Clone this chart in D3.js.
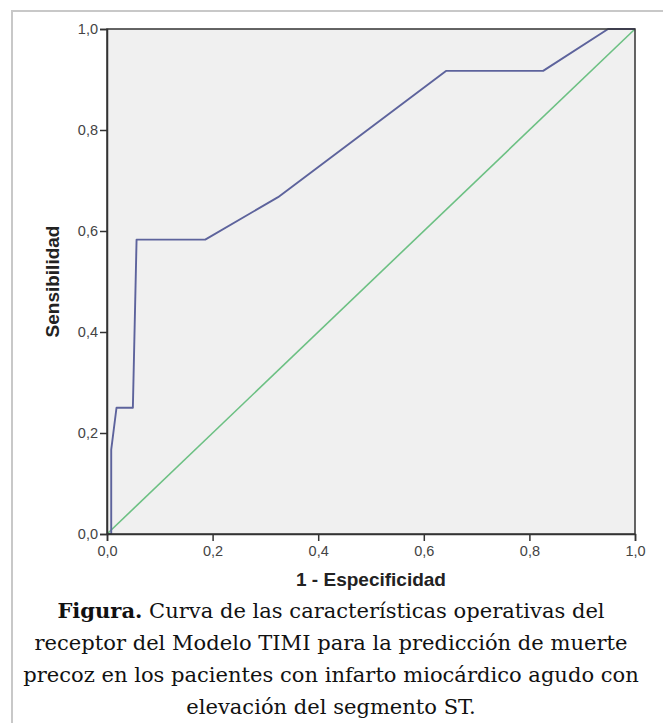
<!DOCTYPE html>
<html><head><meta charset="utf-8">
<script src="https://cdn.jsdelivr.net/npm/d3@7"></script>
<style>body{margin:0;background:#fff}svg{display:block}</style>
</head><body>
<svg id="c" width="663" height="723"></svg>
<script>
// ROC curve data
const fpr = [0, 0.008, 0.008, 0.018, 0.049, 0.056, 0.186, 0.324, 0.642, 0.826, 0.949, 1.0];
const tpr = [0, 0, 0.167, 0.25, 0.25, 0.583, 0.583, 0.667, 0.917, 0.917, 1.0, 1.0];
const refX = [0, 1];
const refY = [0, 1];
const xTicks = [0, 0.2, 0.4, 0.6, 0.8, 1.0];
const yTicks = [0, 0.2, 0.4, 0.6, 0.8, 1.0];
const xTitle = "1 - Especificidad";
const yTitle = "Sensibilidad";
const captionBold = "Figura.";
const captionLines = [
  " Curva de las características operativas del",
  "receptor del Modelo TIMI para la predicción de muerte",
  "precoz en los pacientes con infarto miocárdico agudo con",
  "elevación del segmento ST."
];

const svg = d3.select("#c");
const m = {l:107, r:635, t:29, b:534};
const x = d3.scaleLinear().domain([0,1]).range([m.l, m.r]);
const y = d3.scaleLinear().domain([0,1]).range([m.b, m.t]);
const fmt = d => d3.format(".1f")(d).replace(".", ",");

// outer frame
svg.append("rect").attr("x",12).attr("y",11).attr("width",700).attr("height",800)
  .attr("fill","none").attr("stroke","#c8c8c8").attr("stroke-width",2);

// plot bg
svg.append("rect").attr("x",m.l).attr("y",m.t).attr("width",m.r-m.l).attr("height",m.b-m.t)
  .attr("fill","#f0f0f0");

const line = d3.line().x(d=>x(d[0])).y(d=>y(d[1]));
svg.append("path").datum(refX.map((v,i)=>[v,refY[i]])).attr("d",line)
  .attr("fill","none").attr("stroke","#6cc083").attr("stroke-width",1.6);
svg.append("path").datum(fpr.map((v,i)=>[v,tpr[i]])).attr("d",line)
  .attr("fill","none").attr("stroke","#5d639c").attr("stroke-width",1.9).attr("stroke-linejoin","round");

// frame of plot
svg.append("rect").attr("x",m.l).attr("y",m.t).attr("width",m.r-m.l).attr("height",m.b-m.t)
  .attr("fill","none").attr("stroke","#333").attr("stroke-width",1.5);

const xa = svg.append("g").attr("transform",`translate(0,${m.b})`)
  .call(d3.axisBottom(x).tickValues(xTicks).tickFormat(fmt).tickSize(7).tickPadding(5));
const ya = svg.append("g").attr("transform",`translate(${m.l},0)`)
  .call(d3.axisLeft(y).tickValues(yTicks).tickFormat(fmt).tickSize(7).tickPadding(2));
[xa,ya].forEach(a=>{
  a.select(".domain").attr("stroke","#333").attr("stroke-width",1.5);
  a.selectAll(".tick line").attr("stroke","#333").attr("stroke-width",1.5);
  a.selectAll(".tick text").attr("fill","#444").style("font-family","Liberation Sans, Arial, sans-serif").style("font-size","14.5px");
});

svg.append("text").attr("x",(m.l+m.r)/2).attr("y",586).attr("text-anchor","middle")
  .style("font-family","Liberation Sans, Arial, sans-serif").style("font-weight","bold").style("font-size","19px")
  .attr("fill","#222").text(xTitle);
svg.append("text").attr("transform",`translate(59,${(m.t+m.b)/2}) rotate(-90)`).attr("text-anchor","middle")
  .style("font-family","Liberation Sans, Arial, sans-serif").style("font-weight","bold").style("font-size","19px")
  .attr("fill","#222").text(yTitle);

// caption
const cap = svg.append("g").style("font-family","DejaVu Serif, serif").style("font-size","22px").attr("fill","#111");
const baselines = [618, 650, 682, 714];
const t0 = cap.append("text").attr("x",331).attr("y",baselines[0]).attr("text-anchor","middle");
t0.append("tspan").style("font-weight","bold").text(captionBold);
t0.append("tspan").text(captionLines[0]);
const others = [];
for (let i=1;i<captionLines.length;i++){
  others.push(cap.append("text").attr("x",331).attr("y",baselines[i]).attr("text-anchor","middle").text(captionLines[i]));
}
// fit font size so that the longest measured line matches reference width (~593px for line 2)
const w = others[0].node().getComputedTextLength();
if (w > 0) cap.style("font-size", (22 * 593 / w).toFixed(2) + "px");
</script>
</body></html>
